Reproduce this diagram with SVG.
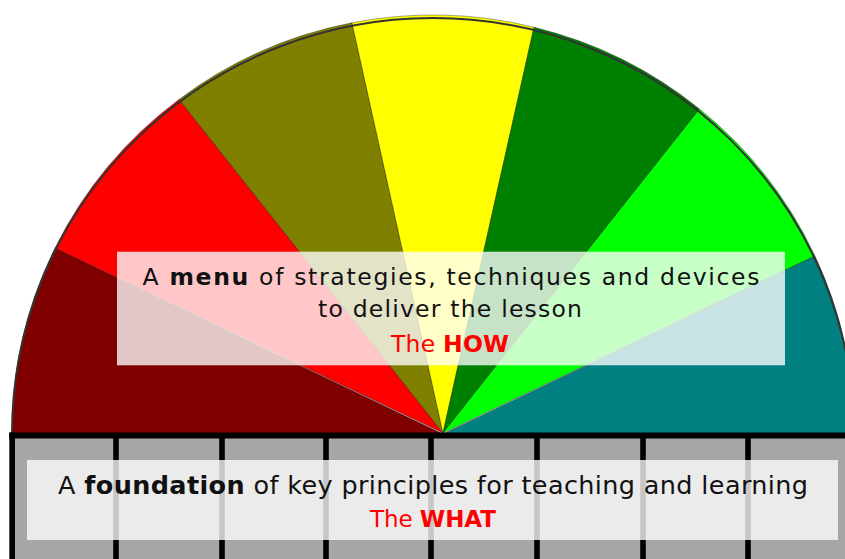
<svg xmlns="http://www.w3.org/2000/svg" width="845" height="559" viewBox="0 0 845 559">
  <style>
    .wedge { stroke: #000; stroke-opacity: 0.35; stroke-width: 1; stroke-linejoin: round; }
    .rim { fill: none; stroke: #333; stroke-width: 2; }
    .panel { fill: #fff; fill-opacity: 0.78; }
    .bar { fill: #000; }
    .txt { font-family: "DejaVu Sans", "Liberation Sans", sans-serif; fill: #111; text-anchor: middle; }
    .red { fill: #ff0000; }
    .b { font-weight: bold; }
  </style>

  <rect x="0" y="0" width="845" height="559" fill="#fff"/>

  <!-- Fan of seven coloured wedges radiating from the hub -->
  <g id="fan">
    <path id="wedge-maroon" class="wedge" fill="#800000" d="M443,434 L12,434 A421,416 0 0,1 55,248 Z"/>
    <path id="wedge-red" class="wedge" fill="#ff0000" d="M443,433 L55,248 A421,416 0 0,1 179,99.4 Z"/>
    <path id="wedge-olive" class="wedge" fill="#808000" d="M443,433 L179,99.4 A421,416 0 0,1 352,22.8 Z"/>
    <path id="wedge-yellow" class="wedge" fill="#ffff00" d="M443,433 L352,22.8 A421,416 0 0,1 534,27.2 Z"/>
    <path id="wedge-green" class="wedge" fill="#008000" d="M443,433 L534,27.2 A421,416 0 0,1 699.5,109 Z"/>
    <path id="wedge-lime" class="wedge" fill="#00ff00" d="M443,433 L699.5,109 A421,416 0 0,1 815,256 Z"/>
    <path id="wedge-teal" class="wedge" fill="#008080" d="M443,434 L815,256 A421,416 0 0,1 854,434 Z"/>
    <path id="fan-rim" class="rim" d="M12,434 A421,416 0 0,1 854,434"/>
  </g>

  <!-- Grid of foundation blocks -->
  <g id="foundation-grid">
    <rect x="12" y="436" width="840" height="130" fill="#a6a6a6"/>
    <rect class="bar" x="9.3" y="432.5" width="840" height="6"/>
    <rect class="bar" x="9.3" y="432.5" width="5.7" height="130"/>
    <rect class="bar" x="113.2" y="438" width="5.6" height="125"/>
    <rect class="bar" x="219.2" y="438" width="5.6" height="125"/>
    <rect class="bar" x="323.2" y="438" width="5.6" height="125"/>
    <rect class="bar" x="428.2" y="438" width="5.6" height="125"/>
    <rect class="bar" x="534.2" y="438" width="5.6" height="125"/>
    <rect class="bar" x="640.2" y="438" width="5.6" height="125"/>
    <rect class="bar" x="745.2" y="438" width="5.6" height="125"/>
  </g>

  <!-- Label over the fan -->
  <g id="menu-label">
    <rect class="panel" x="117" y="251.7" width="668" height="113.6"/>
    <text class="txt" x="451" y="285" font-size="23.5" textLength="617" lengthAdjust="spacing">A <tspan class="b">menu</tspan> of strategies, techniques and devices</text>
    <text class="txt" x="450" y="317.3" font-size="23.5" textLength="264" lengthAdjust="spacing">to deliver the lesson</text>
    <text class="txt red" x="450" y="351.7" font-size="23.5" textLength="118" lengthAdjust="spacing">The <tspan class="b">HOW</tspan></text>
  </g>

  <!-- Label over the foundation -->
  <g id="foundation-label">
    <rect class="panel" x="27" y="460" width="811" height="80"/>
    <text class="txt" x="433" y="494" font-size="25.5" textLength="750" lengthAdjust="spacing">A <tspan class="b">foundation</tspan> of key principles for teaching and learning</text>
    <text class="txt red" x="433" y="527" font-size="23" textLength="126" lengthAdjust="spacing">The <tspan class="b">WHAT</tspan></text>
  </g>
</svg>
